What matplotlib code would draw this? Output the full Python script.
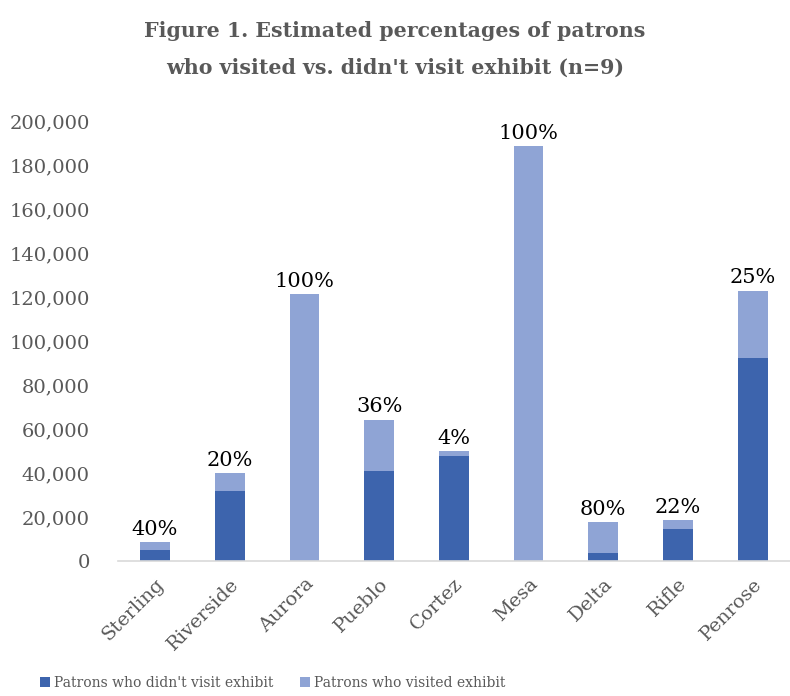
import matplotlib

matplotlib.use("Agg")
import matplotlib.pyplot as plt
import numpy as np

# --------------------------------------------------
# data: patrons per library, split by exhibit visit
# --------------------------------------------------
libraries = ["Sterling", "Riverside", "Aurora", "Pueblo", "Cortez",
             "Mesa", "Delta", "Rifle", "Penrose"]
didnt_visit = [5200, 32000, 0, 41000, 48000, 0, 3500, 14500, 92300]
visited = [3500, 8000, 121600, 23300, 2000, 189000, 14100, 4100, 30800]

yticks = np.arange(0, 200001, 20000)

DARK = "#3D64AD"
LIGHT = "#8FA4D5"
GRAY = "#595959"

plt.rcParams.update({
    "font.family": "DejaVu Serif",
    "font.size": 14,
})

fig = plt.figure(figsize=(7.9, 6.96), dpi=100)
ax = fig.add_axes([0.149, 0.194, 0.851, 0.631])

x = np.arange(len(libraries))
didnt = np.array(didnt_visit)
vis = np.array(visited)
total = didnt + vis

ax.bar(x, didnt, width=0.4, color=DARK, label="Patrons who didn't visit exhibit")
ax.bar(x, vis, width=0.4, bottom=didnt, color=LIGHT,
       label="Patrons who visited exhibit")

# share of visitors above each stack
for xi, v, t in zip(x, vis, total):
    ax.text(xi, t + 1500, f"{round(100 * v / t)}%", ha="center", va="bottom",
            fontsize=15, color="black")

ax.set_xlim(-0.5, len(libraries) - 0.5)
ax.set_ylim(0, 200000)
ax.set_yticks(yticks)
ax.set_yticklabels([f"{t:,}" for t in yticks], color=GRAY)
ax.set_xticks(x)
ax.set_xticklabels(libraries, rotation=45, ha="right", rotation_mode="anchor",
                   color=GRAY)
ax.tick_params(axis="y", length=0, pad=20)
ax.tick_params(axis="x", length=0, pad=10)

for side in ("top", "right", "left"):
    ax.spines[side].set_visible(False)
ax.spines["bottom"].set_color("#D9D9D9")
ax.spines["bottom"].set_linewidth(1.2)

fig.text(0.5, 0.956, "Figure 1. Estimated percentages of patrons",
         ha="center", va="center", fontsize=14.8, fontweight="bold", color=GRAY)
fig.text(0.5, 0.903, "who visited vs. didn't visit exhibit (n=9)",
         ha="center", va="center", fontsize=14.8, fontweight="bold", color=GRAY)

fig.legend(loc="center left", bbox_to_anchor=(0.05, 0.019), ncol=2,
           frameon=False, handlelength=0.75, handleheight=0.75,
           handletextpad=0.3, columnspacing=1.9, borderaxespad=0,
           borderpad=0, labelcolor=GRAY, fontsize=10)

fig.savefig("out.png", dpi=100)
